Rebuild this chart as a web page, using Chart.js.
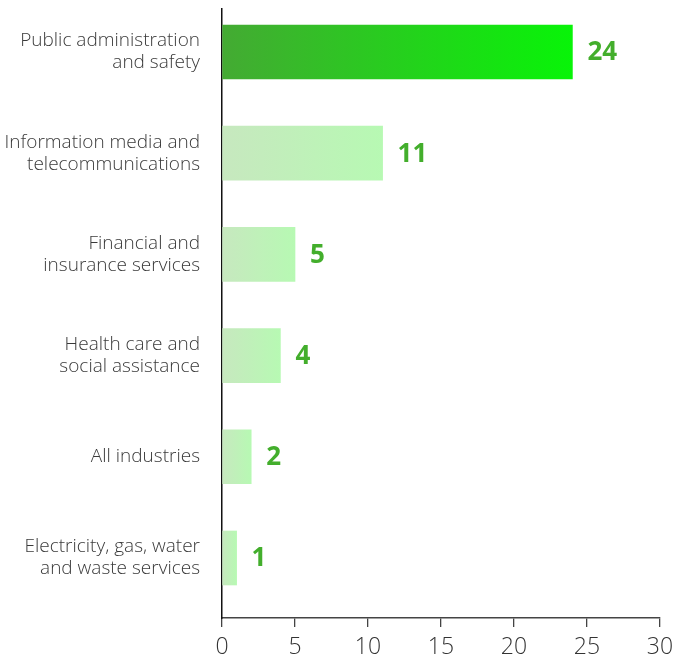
<!DOCTYPE html>
<html>
<head>
<meta charset="utf-8">
<script src="https://cdn.jsdelivr.net/npm/chart.js@4/dist/chart.umd.min.js"></script>
<style>
  html, body { margin: 0; padding: 0; background: #fff; }
  #wrap { width: 676px; height: 657px; position: relative; }
</style>
</head>
<body>
<div id="wrap"><canvas id="chart"></canvas></div>
<script>
// Industry categories (each entry is the lines of its axis label)
const categories = [
  ['Public administration', 'and safety'],
  ['Information media and', 'telecommunications'],
  ['Financial and', 'insurance services'],
  ['Health care and', 'social assistance'],
  ['All industries'],
  ['Electricity, gas, water', 'and waste services']
];
const values = [24, 11, 5, 4, 2, 1];
const xTicks = [0, 5, 10, 15, 20, 25, 30];
const highlighted = 0;

const FONT = "'Open Sans', 'Noto Sans', sans-serif";

function barGradient(context) {
  const chart = context.chart;
  const xs = chart.scales.x;
  if (!xs || !chart.chartArea) return '#c5e9bd';
  const i = context.dataIndex;
  const x0 = xs.getPixelForValue(0);
  const x1 = xs.getPixelForValue(values[i]);
  const g = chart.ctx.createLinearGradient(x0, 0, Math.max(x1, x0 + 1), 0);
  if (i === highlighted) {
    g.addColorStop(0, '#44aa33');
    g.addColorStop(1, '#08f408');
  } else {
    g.addColorStop(0, '#c7e8bf');
    g.addColorStop(1, '#b7f9b3');
  }
  return g;
}

// Bold value printed just past the end of each bar
const valueLabels = {
  id: 'valueLabels',
  afterDatasetsDraw(chart) {
    const ctx = chart.ctx;
    const meta = chart.getDatasetMeta(0);
    ctx.save();
    ctx.font = "bold 26px " + FONT;
    ctx.fillStyle = '#43ae2c';
    ctx.textAlign = 'left';
    ctx.textBaseline = 'middle';
    meta.data.forEach((el, i) => {
      ctx.fillText(String(values[i]), el.x + 15, el.y + 1);
    });
    ctx.restore();
  }
};

new Chart(document.getElementById('chart'), {
  type: 'bar',
  data: {
    datasets: [{
      data: values.map((v, i) => ({ x: v, y: i })),
      backgroundColor: barGradient,
      borderWidth: 0,
      barThickness: 54
    }]
  },
  options: {
    indexAxis: 'y',
    responsive: true,
    maintainAspectRatio: false,
    animation: false,
    layout: { padding: { top: 9, right: 16, left: 0, bottom: 0 } },
    plugins: { legend: { display: false }, tooltip: { enabled: false } },
    scales: {
      x: {
        type: 'linear',
        min: xTicks[0],
        max: xTicks[xTicks.length - 1],
        afterBuildTicks(scale) { scale.ticks = xTicks.map(v => ({ value: v })); },
        grid: { display: true, drawOnChartArea: false, tickLength: 9, color: '#444', lineWidth: 1.3 },
        border: { display: true, color: '#444', width: 1.5 },
        ticks: {
          padding: 7,
          color: '#333',
          font: { family: FONT, size: 23, weight: '300' },
          maxRotation: 0
        },
        afterFit(scale) { scale.height = 39; scale.paddingLeft = 0; scale.paddingRight = 0; }
      },
      y: {
        type: 'linear',
        offset: false,
        reverse: true,
        min: -0.425,
        max: 5.593,
        afterBuildTicks(scale) { scale.ticks = categories.map((c, i) => ({ value: i })); },
        grid: { display: false, drawTicks: false },
        border: { display: true, color: '#111', width: 1.5 },
        ticks: {
          padding: 22,
          color: '#3a3a3a',
          font: { family: FONT, size: 19, weight: '300', lineHeight: 1.16 },
          callback: (v) => categories[v] || ''
        },
        afterFit(scale) { scale.width = 222; scale.paddingTop = 0; scale.paddingBottom = 0; }
      }
    }
  },
  plugins: [valueLabels]
});
</script>
</body>
</html>
